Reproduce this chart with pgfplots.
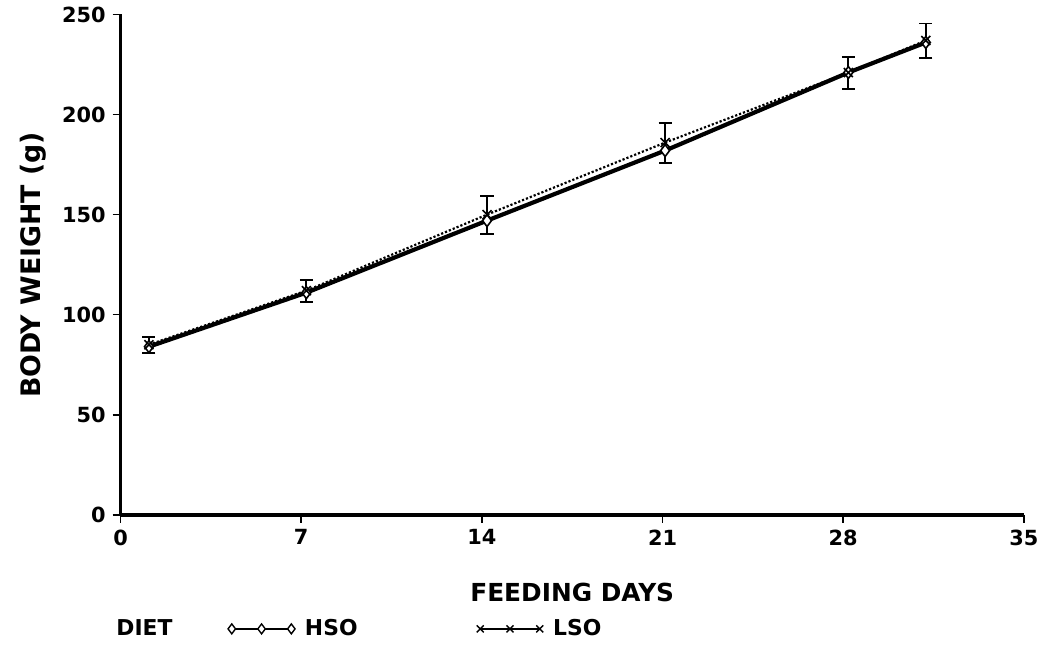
\documentclass[border=0pt]{standalone}
\usepackage{fontspec}
\setmainfont{DejaVu Sans}
\usepackage{pgfplots}
\pgfplotsset{compat=1.18}
\begin{document}
\bfseries
\begin{tikzpicture}
\begin{axis}[
    width=455pt, height=252pt,
    scale only axis,
    axis lines*=left,
    axis line style={line width=1.8pt},
    xmin=0, xmax=35, ymin=0, ymax=250,
    xtick={0,7,14,21,28,35},
    ytick={0,50,100,150,200,250},
    tick align=outside,
    major tick length=4pt,
    tick style={line width=0.8pt, black},
    /pgf/number format/assume math mode=true,
    ticklabel style={font=\fontsize{10.5}{12}\bfseries},
    xlabel={FEEDING DAYS},
    ylabel={BODY WEIGHT (g)},
    xlabel style={font=\fontsize{12.5}{14}\bfseries,
        at={(axis description cs:0.5,-0.155)}, anchor=center},
    ylabel style={font=\fontsize{13.5}{15}\bfseries,
        at={(axis description cs:-0.097,0.5)}, anchor=center, inner ysep=10pt},
    legend columns=3,
    legend style={draw=none, at={(-0.016,-0.228)}, anchor=west,
        inner ysep=7pt,
        font=\fontsize{11}{13}\bfseries,
        /tikz/column 2/.style={column sep=26pt},
        /tikz/column 3/.style={column sep=3pt},
        /tikz/column 4/.style={column sep=58pt},
        /tikz/column 5/.style={column sep=3pt}},
    legend cell align=left,
    legend image code/.code={\draw[#1] plot coordinates {(0pt,0pt) (15pt,0pt) (30pt,0pt)};},
]
\addlegendimage{empty legend}
\addlegendentry{DIET}
\addlegendimage{black, line width=0.9pt, mark=diamond*, mark size=2.5pt,
    mark options={fill=white, line width=0.7pt}}
\addlegendentry{HSO}
\addlegendimage{black, line width=0.8pt, mark=x, mark size=2.5pt,
    mark options={line width=0.7pt}}
\addlegendentry{LSO}

% HSO
\addplot[forget plot, black, line width=2.1pt, mark=diamond*, mark size=3pt,
    mark options={fill=white, line width=0.8pt}] coordinates {
    (1.1,84) (7.2,111) (14.2,147) (21.1,182) (28.2,221) (31.2,236)
};

% LSO
\addplot[forget plot, black, line width=1.1pt, densely dotted, mark=x, mark size=3.2pt,
    mark options={solid, line width=0.8pt},
    error bars/.cd, y dir=both, y explicit,
    error bar style={solid, line width=0.9pt},
    error mark options={rotate=90, mark size=3.3pt, line width=1pt}] coordinates {
    (1.1,85) +- (0,4)
    (7.2,112) +- (0,5.5)
    (14.2,150) +- (0,9.5)
    (21.1,186) +- (0,10)
    (28.2,221) +- (0,8)
    (31.2,237) +- (0,8.5)
};
\end{axis}
\end{tikzpicture}
\end{document}
